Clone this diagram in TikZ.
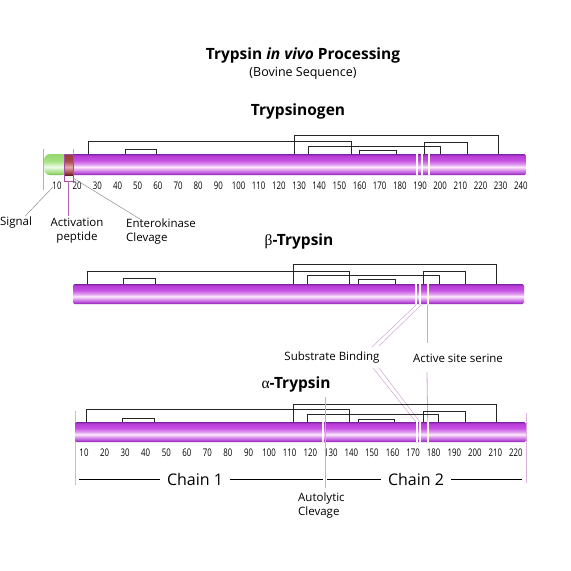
\documentclass[tikz,border=0pt]{standalone}
\usepackage{fontspec}
\setmainfont{Open Sans}
\newfontfamily\tickfont[FakeStretch=0.75]{Open Sans}
\newfontfamily\greekfont{Liberation Serif}
\usetikzlibrary{positioning}

\definecolor{pedge}{RGB}{125,35,160}
\definecolor{plow}{RGB}{170,60,205}
\definecolor{pglow}{RGB}{222,150,238}
\definecolor{phigh}{RGB}{253,236,253}
\definecolor{pup}{RGB}{198,80,225}
\definecolor{ptop}{RGB}{185,60,215}
\definecolor{gedge}{RGB}{110,175,75}
\definecolor{glow}{RGB}{150,215,110}
\definecolor{ghigh}{RGB}{240,252,232}
\definecolor{gup}{RGB}{165,225,130}
\definecolor{bedge}{RGB}{105,30,35}
\definecolor{blow}{RGB}{150,60,60}
\definecolor{bhigh}{RGB}{230,170,170}
\definecolor{bup}{RGB}{170,75,75}
\definecolor{pinkline}{RGB}{215,160,225}
\definecolor{leadgrey}{RGB}{140,140,150}

\pgfdeclareverticalshading{purpletube}{100bp}{color(0bp)=(pedge); color(25bp)=(pedge);
  color(28bp)=(plow); color(37bp)=(pglow); color(44bp)=(phigh); color(51bp)=(pglow);
  color(60bp)=(pup); color(71bp)=(ptop); color(75bp)=(pedge); color(100bp)=(pedge)}
\pgfdeclareverticalshading{greentube}{100bp}{color(0bp)=(gedge); color(25bp)=(gedge);
  color(29bp)=(glow); color(44bp)=(ghigh); color(58bp)=(gup); color(75bp)=(glow); color(100bp)=(glow)}
\pgfdeclareverticalshading{browntube}{100bp}{color(0bp)=(bedge); color(25bp)=(bedge);
  color(29bp)=(blow); color(44bp)=(bhigh); color(58bp)=(bup); color(75bp)=(blow); color(100bp)=(blow)}

\tikzset{
  heading/.style={font=\fontsize{15.5}{18}\selectfont\bfseries, inner sep=1pt},
  lbl/.style={font=\fontsize{11.5}{14.5}\selectfont, inner sep=1pt},
  tick/.style={font=\tickfont\fontsize{10.5}{12}\selectfont, inner sep=0pt},
  chain/.style={font=\fontsize{16}{18}\selectfont, inner sep=7pt},
  ssbond/.style={draw=black!85, line width=0.8pt},
  lead/.style={draw=leadgrey, line width=0.5pt},
  pinklead/.style={draw=pinkline, line width=0.8pt},
  stripe/.style={draw=white, line width=1.4pt},
  endline/.style={draw=black!30, line width=0.5pt}
}

\begin{document}
\begin{tikzpicture}[x=1pt,y=-1pt]
\useasboundingbox (0,0) rectangle (571,571);

% titles
\node[heading] (title) at (303,55) {Trypsin \textit{in vivo} Processing};
\node[lbl, font=\fontsize{12.5}{15}\selectfont] (subtitle) at (303,73) {(Bovine Sequence)};
\node[heading] (tgen) at (298,111) {Trypsinogen};
\node[heading] (btryp) at (299,241) {{\greekfont\mdseries β}-Trypsin};
\node[heading] (atryp) at (296,384) {{\greekfont\mdseries α}-Trypsin};

% trypsinogen
\draw[endline] (43,149) -- (43,190);
\draw[endline] (73,149) -- (73,182);
\shade[shading=purpletube, rounded corners=1.5pt] (69,154) rectangle (526,175);
\shade[shading=greentube, rounded corners=6pt] (44,154) rectangle (68,175);
\shade[shading=browntube] (64,154) rectangle (73,175);
\node[draw=violet!70, line width=0.5pt, minimum width=9pt, minimum height=27pt, inner sep=0pt] (actbox) at (68.5,167.5) {};
\foreach \x in {417,422} \draw[stripe] (\x,154) -- (\x,175);
\draw[stripe, draw=white!85!yellow] (429,154) -- (429,175);
\foreach \a/\b/\h in {88/351/141,125/156/149,294/498/135,308/440/146,359/396/150,424/467/142}
  \draw[ssbond] (\a,154) |- (\b,\h) -- (\b,154);
\foreach \n in {10,20,...,240}
  \node[tick] (t1-\n) at ({57+(\n-10)*2.017},186) {\n};

\node[lbl] (signal) at (16,223) {Signal};
\node[lbl, align=center] (actpep) at (77,230.5) {Activation\\peptide};
\node[lbl, align=left, anchor=west] (entero) at (125,231.5) {Enterokinase\\Clevage};
\coordinate (sigtip) at (53,187);
\coordinate (enttip) at (73,178);
\draw[lead] (sigtip) -- ([xshift=-8pt]signal.north east);
\draw[lead, draw=violet!60] (actbox.south) -- (actbox.south |- actpep.north);
\draw[lead] (enttip) -- ([xshift=17pt,yshift=-3pt]entero.north west);

% beta-trypsin
\shade[shading=purpletube, rounded corners=1.5pt] (73,284) rectangle (524,304);
\foreach \x in {416,420} \draw[stripe] (\x,284) -- (\x,304);
\draw[stripe, draw=white!85!yellow] (428,284) -- (428,304);
\foreach \a/\b/\h in {87/349/271,123/155/278,293/496/264,307/439/275,358/395/279,423/465/271}
  \draw[ssbond] (\a,284) |- (\b,\h) -- (\b,284);

\node[lbl] (subst) at (332,358) {Substrate Binding};
\node[lbl] (active) at (458,358) {Active site serine};
\coordinate (sbA) at (416,305);
\coordinate (sbB) at (421,305);
\coordinate (sbC) at (372,347);
\coordinate (sbD) at (379,346);
\coordinate (sbE) at (373,368);
\coordinate (sbF) at (379,368);
\coordinate (sbG) at (416,422);
\coordinate (sbH) at (420,422);
\draw[lead, draw=violet!35] (sbA) -- (sbC) (sbB) -- (sbD);
\draw[lead, draw=violet!35] (sbE) -- (sbG) (sbF) -- (sbH);
\draw[pinklead] (427,305) -- (427,343);
\draw[pinklead] (427,372) -- (428,442);

% alpha-trypsin
\draw[endline, draw=violet!30] (75,411) -- (75,485);
\draw[endline, draw=violet!30] (526,413) -- (526,483);
\shade[shading=purpletube, rounded corners=1.5pt] (75,422) rectangle (526,442);
\foreach \x in {417,420,323} \draw[stripe] (\x,422) -- (\x,442);
\draw[stripe, draw=white!85!yellow] (428,422) -- (428,442);
\foreach \a/\b/\h in {86/349/409,122/154/418,293/496/404,307/438/414,358/394/419,423/465/411}
  \draw[ssbond] (\a,422) |- (\b,\h) -- (\b,422);
\foreach \n in {10,20,...,220}
  \node[tick] (t3-\n) at ({84+(\n-10)*2.057},453) {\n};

\node[lbl, align=left, anchor=west] (autol) at (297,505.5) {Autolytic\\Clevage};
\draw[pinklead] (325,397) -- (325,488);

\node[chain] (chain1) at (195,479) {Chain 1};
\node[chain] (chain2) at (416,479) {Chain 2};
\coordinate (c1l) at (79,479);
\coordinate (c1r) at (323,479);
\coordinate (c2l) at (327,479);
\coordinate (c2r) at (522,479);
\draw[line width=0.8pt] (c1l) -- (chain1.west) (chain1.east) -- (c1r);
\draw[line width=0.8pt] (c2l) -- (chain2.west) (chain2.east) -- (c2r);
\end{tikzpicture}
\end{document}
